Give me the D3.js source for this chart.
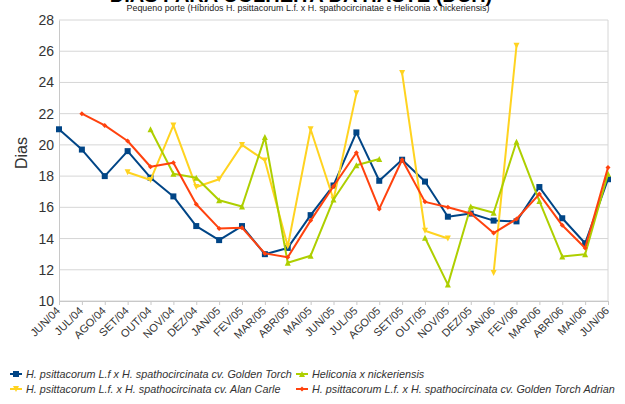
<!DOCTYPE html>
<html>
<head>
<meta charset="utf-8">
<script src="https://cdn.jsdelivr.net/npm/d3@7"></script>
<style>
  body { margin: 0; background: #fff; }
  svg { font-family: "Liberation Sans", Arial, sans-serif; display: block; }
</style>
</head>
<body>
<div id="container"></div>
<script>
// months on the x axis
const months = ["JUN/04","JUL/04","AGO/04","SET/04","OUT/04","NOV/04","DEZ/04","JAN/05","FEV/05","MAR/05",
                "ABR/05","MAI/05","JUN/05","JUL/05","AGO/05","SET/05","OUT/05","NOV/05","DEZ/05","JAN/06",
                "FEV/06","MAR/06","ABR/06","MAI/06","JUN/06"];

// days to harvest, per series (null = no value)
const goldenTorch  = [21.0,19.7,18.0,19.6,17.9,16.7,14.8,13.9,14.8,13.0,13.4,15.5,17.4,20.8,17.7,19.05,17.65,15.4,15.6,15.15,15.1,17.3,15.3,13.7,17.8];
const alanCarle    = [null,null,null,18.25,17.75,21.25,17.3,17.8,20.0,19.0,13.5,21.0,16.5,23.3,null,24.6,14.5,14.0,null,11.8,26.35,null,null,null,null];
const nickeriensis = [null,null,null,null,21.0,18.15,17.9,16.45,16.05,20.5,12.45,12.9,16.5,18.7,19.1,null,14.05,11.05,16.05,15.65,20.2,16.4,12.85,13.0,18.15];
const adrian       = [null,22.0,21.25,20.25,18.6,18.85,16.2,14.65,14.7,13.05,12.8,15.15,17.35,19.5,15.9,19.05,16.35,16.0,15.6,14.35,15.25,16.85,14.85,13.4,18.55];

const yTicks = [10,12,14,16,18,20,22,24,26,28];

const series = [
    {name: "H. psittacorum L.f x H. spathocircinata cv. Golden Torch", values: goldenTorch, color: "#004586", symbol: "square"},
    {name: "H. psittacorum L.f. x H. spathocircinata cv. Alan Carle", values: alanCarle, color: "#ffd320", symbol: "down"},
    {name: "Heliconia x nickeriensis", values: nickeriensis, color: "#aecf00", symbol: "up"},
    {name: "H. psittacorum L.f. x H. spathocircinata cv. Golden Torch Adrian", values: adrian, color: "#ff420e", symbol: "diamond"}
];

// set dimensions
const w = 625;
const h = 404;
const plotLeft = 59, plotRight = 608, plotTop = 20, plotBottom = 301;

const xScale = d3.scalePoint().domain(months).range([plotLeft, plotRight]);
const yScale = d3.scaleLinear().domain([10, 28]).range([plotBottom, plotTop]);

const svg = d3.select("#container")
              .append("svg")
              .attr("width", w)
              .attr("height", h);

// grid lines
svg.append("g")
   .selectAll("line")
   .data(yTicks)
   .enter()
   .append("line")
   .attr("x1", plotLeft)
   .attr("x2", plotRight)
   .attr("y1", d => yScale(d))
   .attr("y2", d => yScale(d))
   .attr("stroke", "#d6d6d6")
   .attr("stroke-width", 1);

// right border
svg.append("line")
   .attr("x1", plotRight).attr("x2", plotRight)
   .attr("y1", plotTop).attr("y2", plotBottom)
   .attr("stroke", "#d6d6d6");

// axes
const xAxis = d3.axisBottom(xScale).tickSize(4).tickSizeOuter(0);
const yAxis = d3.axisLeft(yScale).tickValues(yTicks).tickSize(0);

const gx = svg.append("g")
   .attr("transform", "translate(0," + plotBottom + ")")
   .call(xAxis);
gx.select(".domain").attr("stroke", "#c8c8c8");
gx.selectAll(".tick line").attr("stroke", "#c8c8c8");
gx.selectAll(".tick text")
  .attr("fill", "#333")
  .style("font-size", "11px")
  .attr("text-anchor", "end")
  .attr("dy", "0.3em")
  .attr("transform", "translate(-1,8) rotate(-45)")
  .attr("y", 0)
  .attr("x", 0);

const gy = svg.append("g")
   .attr("transform", "translate(" + plotLeft + ",0)")
   .call(yAxis);
gy.select(".domain").attr("stroke", "#c8c8c8");
gy.selectAll(".tick text")
  .attr("fill", "#333")
  .style("font-size", "14px")
  .attr("x", -5);

// lines
const line = d3.line()
               .defined(d => d.v !== null)
               .x(d => xScale(d.m))
               .y(d => yScale(d.v));

function symbolPath(type, s) {
    if (type === "square") return "M" + (-s) + "," + (-s) + "h" + (2*s) + "v" + (2*s) + "h" + (-2*s) + "Z";
    if (type === "diamond") return "M0," + (-s) + "L" + s + ",0L0," + s + "L" + (-s) + ",0Z";
    if (type === "down") return "M" + (-s) + "," + (-s) + "H" + s + "L0," + s + "Z";
    return "M0," + (-s) + "L" + s + "," + s + "H" + (-s) + "Z";
}
const sizes = {square: 3, diamond: 2.5, down: 3, up: 3};

series.forEach(function(s){
    const pts = s.values.map((v, i) => ({m: months[i], v: v}));
    svg.append("path")
       .datum(pts)
       .attr("d", line)
       .attr("fill", "none")
       .attr("stroke", s.color)
       .attr("stroke-width", 2)
       .attr("stroke-linejoin", "round");

    svg.append("g")
       .selectAll("path")
       .data(pts.filter(d => d.v !== null))
       .enter()
       .append("path")
       .attr("transform", d => "translate(" + xScale(d.m) + "," + yScale(d.v) + ")")
       .attr("d", symbolPath(s.symbol, sizes[s.symbol]))
       .attr("fill", s.color);
});

// title (mostly cut at the top of the picture, as in the original)
svg.append("text")
   .attr("x", 301)
   .attr("y", 1.5)
   .attr("text-anchor", "middle")
   .style("font-size", "20px")
   .style("font-weight", "bold")
   .attr("fill", "#000")
   .text("DIAS PARA COLHEITA DA HASTE (DCH)");

// subtitle
svg.append("text")
   .attr("x", 308)
   .attr("y", 10.5)
   .attr("text-anchor", "middle")
   .style("font-size", "9.5px")
   .attr("fill", "#222")
   .attr("textLength", 363)
   .attr("lengthAdjust", "spacingAndGlyphs")
   .text("Pequeno porte (Híbridos H. psittacorum L.f. x H. spathocircinatae e Heliconia x nickeriensis)");

// y-axis label
svg.append("text")
   .attr("transform", "translate(27,153) rotate(-90)")
   .attr("text-anchor", "middle")
   .style("font-size", "16px")
   .attr("fill", "#333")
   .text("Dias");

// legend
const legendPos = [
    {x: 10, y: 374}, {x: 10, y: 389}, {x: 296, y: 374}, {x: 296, y: 389}
];
series.forEach(function(s, i){
    const p = legendPos[i];
    svg.append("line")
       .attr("x1", p.x).attr("x2", p.x + 12)
       .attr("y1", p.y).attr("y2", p.y)
       .attr("stroke", s.color)
       .attr("stroke-width", 2);
    svg.append("path")
       .attr("transform", "translate(" + (p.x + 6) + "," + p.y + ")")
       .attr("d", symbolPath(s.symbol, sizes[s.symbol]))
       .attr("fill", s.color);
    svg.append("text")
       .attr("x", p.x + 16)
       .attr("y", p.y + 4)
       .style("font-size", "10.8px")
       .style("font-style", "italic")
       .attr("fill", "#333")
       .text(s.name);
});
</script>
</body>
</html>
